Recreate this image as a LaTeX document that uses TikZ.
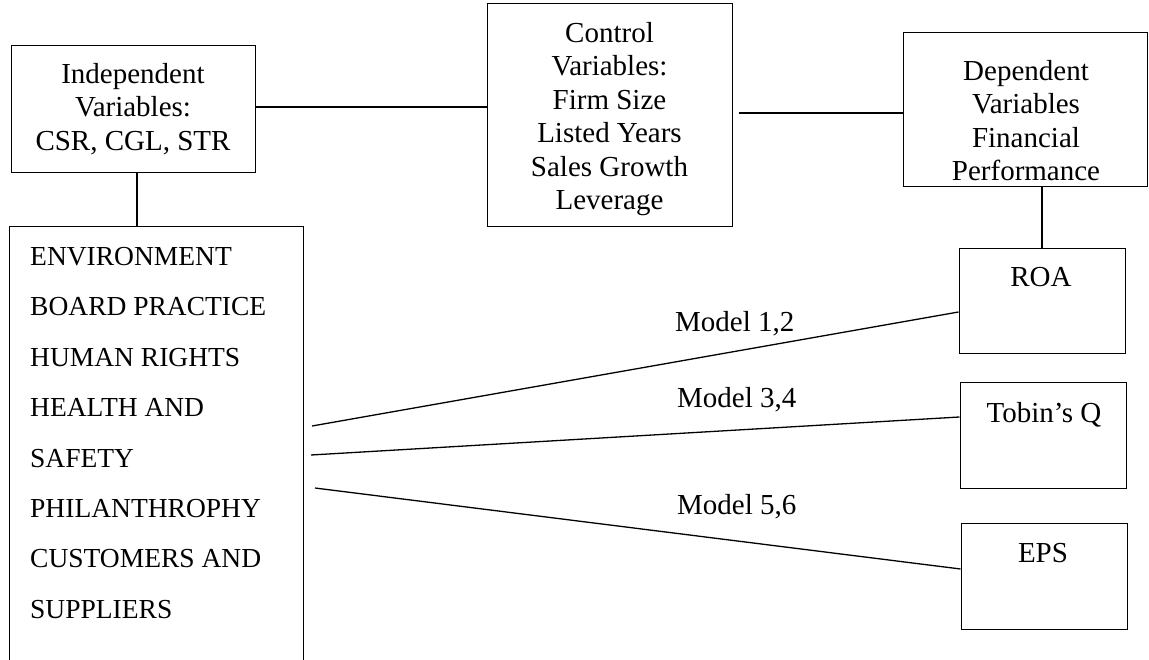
\documentclass[tikz,border=0pt]{standalone}
\usepackage{fontspec}
\setmainfont{Liberation Serif}
\begin{document}
\begin{tikzpicture}[x=1pt,y=-1pt,
  box/.style={draw, line width=1pt, inner sep=0pt},
  boxtext/.style={inner sep=0pt, align=center, font=\fontsize{29}{33.5}\selectfont},
  listtext/.style={inner sep=0pt, align=left, font=\fontsize{27.5}{50.4}\selectfont},
  modeltext/.style={inner sep=0pt, font=\fontsize{29}{33.5}\selectfont},
  link/.style={line width=1.1pt},
  boldlink/.style={line width=2pt},
  modellink/.style={line width=1.3pt}]
\useasboundingbox (0,0) rectangle (1149,660);
\clip (0,0) rectangle (1149,660);

% frames
\node[box, minimum width=244pt, minimum height=127pt] (indep) at (133,109.5) {};
\node[box, minimum width=245pt, minimum height=223pt] (control) at (609.5,115.5) {};
\node[box, minimum width=244pt, minimum height=154pt] (dep) at (1025,110) {};
\node[box, minimum width=294pt, minimum height=453pt] (csr) at (156,453.5) {};
\node[box, minimum width=166pt, minimum height=105pt] (roa) at (1042,301.5) {};
\node[box, minimum width=166pt, minimum height=106pt] (tobin) at (1043,435) {};
\node[box, minimum width=166pt, minimum height=106pt] (eps) at (1044,576) {};

% frame texts
\node[boxtext, anchor=north] (indep-t) at (133,63) {Independent\\Variables:\\CSR, CGL, STR};
\node[boxtext, anchor=north] (control-t) at (609.5,22) {Control\\Variables:\\Firm Size\\Listed Years\\Sales Growth\\Leverage};
\node[boxtext, anchor=north] (dep-t) at (1026,60) {Dependent\\Variables\\Financial\\Performance};
\node[listtext, anchor=north west] (csr-t) at (30,247) {ENVIRONMENT\\BOARD PRACTICE\\HUMAN RIGHTS\\HEALTH AND\\SAFETY\\PHILANTHROPHY\\CUSTOMERS AND\\SUPPLIERS};
\node[boxtext, anchor=base] (roa-t) at (1041,287) {ROA};
\node[boxtext, anchor=base] (tobin-t) at (1044,422) {Tobin’s Q};
\node[boxtext, anchor=base] (eps-t) at (1043,562) {EPS};

% connectors between the variable groups
\draw[boldlink] ([yshift=2.5pt]indep.east) -- ([yshift=8.5pt]control.west);
\draw[boldlink] ([xshift=6pt,yshift=2.5pt]control.east) -- ([yshift=-3pt]dep.west);
\draw[link] ([xshift=4pt]indep.south) -- ([xshift=4pt]indep.south |- csr.north);
\draw[link] (roa.north |- dep.south) -- (roa.north);

% model lines
\coordinate (m1) at (312,426);
\coordinate (m2) at (311,455);
\coordinate (m3) at (315,488);
\draw[modellink] (m1) -- ([yshift=-10.5pt]roa.west);
\draw[modellink] (m2) -- ([yshift=18pt]tobin.west);
\draw[modellink] (m3) -- ([yshift=7pt]eps.west);

\node[modeltext, anchor=base west] (lab1) at (675,332) {Model 1,2};
\node[modeltext, anchor=base west] (lab2) at (677,407) {Model 3,4};
\node[modeltext, anchor=base west] (lab3) at (677,514) {Model 5,6};
\end{tikzpicture}
\end{document}
